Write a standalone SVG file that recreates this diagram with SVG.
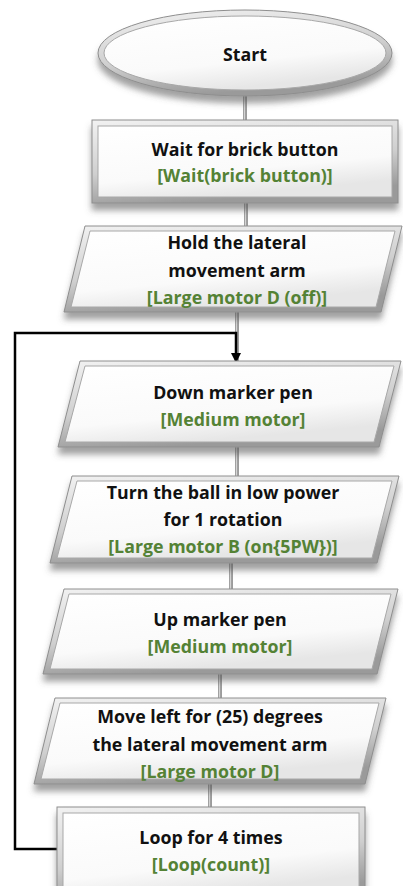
<svg xmlns="http://www.w3.org/2000/svg" width="403" height="886" viewBox="0 0 403 886">
  <defs>
    <style>
      .t { font-family: "Open Sans", "Liberation Sans", sans-serif; font-weight: 700; font-size: 17.8px; text-anchor: middle; fill: #111; }
      .g { fill: #548235; }
      .frame { fill: url(#frameGrad); stroke: #8e8e8e; stroke-width: 1; }
      .face { fill: url(#faceGrad); stroke: #a8a8a8; stroke-width: 1; }
      .link { stroke: #9c9c9c; stroke-width: 4; fill: none; }
      .linkHi { stroke: #d4d4d4; stroke-width: 1.2; fill: none; }
      .loop { stroke: #000; stroke-width: 2.5; fill: none; }
    </style>
    <linearGradient id="frameGrad" x1="0" y1="0" x2="0.3" y2="1">
      <stop offset="0" stop-color="#f2f2f2"/>
      <stop offset="0.6" stop-color="#cfcfcf"/>
      <stop offset="1" stop-color="#9a9a9a"/>
    </linearGradient>
    <linearGradient id="faceGrad" x1="0" y1="0" x2="0.4" y2="1">
      <stop offset="0" stop-color="#ffffff"/>
      <stop offset="0.7" stop-color="#fafafa"/>
      <stop offset="1" stop-color="#e6e6e6"/>
    </linearGradient>
    <filter id="shadow" x="-10%" y="-20%" width="120%" height="150%">
      <feGaussianBlur in="SourceAlpha" stdDeviation="3"/>
      <feOffset dx="0" dy="7" result="b"/>
      <feFlood flood-color="#555" flood-opacity="0.55"/>
      <feComposite in2="b" operator="in"/>
      <feMerge>
        <feMergeNode/>
        <feMergeNode in="SourceGraphic"/>
      </feMerge>
    </filter>
    <marker id="arrow" markerWidth="10" markerHeight="10" refX="9" refY="5" orient="auto" markerUnits="userSpaceOnUse">
      <path d="M0,0 L10,5 L0,10 Z" fill="#000"/>
    </marker>
  </defs>

  <!-- connectors -->
  <g id="connectors">
    <path class="link" d="M245,96 V120"/>
    <path class="linkHi" d="M244.5,96 V120"/>
    <path class="link" d="M246,203 V226"/>
    <path class="linkHi" d="M245.5,203 V226"/>
    <path class="link" d="M237,312 V361"/>
    <path class="linkHi" d="M236.5,312 V361"/>
    <path class="link" d="M237,447 V476"/>
    <path class="linkHi" d="M236.5,447 V476"/>
    <path class="link" d="M231,563 V589"/>
    <path class="linkHi" d="M230.5,563 V589"/>
    <path class="link" d="M220,674 V698"/>
    <path class="linkHi" d="M219.5,674 V698"/>
    <path class="link" d="M210,784 V807"/>
    <path class="linkHi" d="M209.5,784 V807"/>
    <!-- loop back -->
    <path class="loop" d="M57,849 H15 V333 H236 V362" marker-end="url(#arrow)"/>
  </g>

  <g id="start">
    <ellipse class="frame" cx="245" cy="53" rx="147" ry="43" filter="url(#shadow)"/>
    <ellipse class="face" cx="245" cy="53" rx="141" ry="37"/>
    <text class="t" x="245" y="61">Start</text>
  </g>

  <g id="wait">
    <rect class="frame" x="92" y="120" width="306" height="83" filter="url(#shadow)"/>
    <rect class="face" x="98" y="126" width="294" height="71"/>
    <text class="t" x="245" y="156">Wait for brick button</text>
    <text class="t g" x="245" y="182">[Wait(brick button)]</text>
  </g>

  <g id="hold">
    <polygon class="frame" points="85,226 402,226 381,312 64,312" filter="url(#shadow)"/>
    <polygon class="face" points="90,231 395,231 376,307 71,307"/>
    <text class="t" x="237" y="249">Hold the lateral</text>
    <text class="t" x="237" y="277">movement arm</text>
    <text class="t g" x="237" y="304">[Large motor D (off)]</text>
  </g>

  <g id="down">
    <polygon class="frame" points="80,361 401,361 379,447 58,447" filter="url(#shadow)"/>
    <polygon class="face" points="85,366 394,366 374,442 65,442"/>
    <text class="t" x="233" y="399">Down marker pen</text>
    <text class="t g" x="233" y="426">[Medium motor]</text>
  </g>

  <g id="turn">
    <polygon class="frame" points="72,476 399,476 377,563 50,563" filter="url(#shadow)"/>
    <polygon class="face" points="77,481 392,481 372,558 57,558"/>
    <text class="t" x="223" y="499">Turn the ball in low power</text>
    <text class="t" x="223" y="526">for 1 rotation</text>
    <text class="t g" x="223" y="553">[Large motor B (on{5PW})]</text>
  </g>

  <g id="up">
    <polygon class="frame" points="64,589 398,589 377,674 43,674" filter="url(#shadow)"/>
    <polygon class="face" points="69,594 391,594 372,669 50,669"/>
    <text class="t" x="220" y="626">Up marker pen</text>
    <text class="t g" x="220" y="653">[Medium motor]</text>
  </g>

  <g id="move">
    <polygon class="frame" points="55,698 386,698 365,784 34,784" filter="url(#shadow)"/>
    <polygon class="face" points="60,703 379,703 360,779 41,779"/>
    <text class="t" x="210" y="723">Move left for (25) degrees</text>
    <text class="t" x="210" y="751">the lateral movement arm</text>
    <text class="t g" x="210" y="778">[Large motor D]</text>
  </g>

  <g id="loop">
    <rect class="frame" x="57" y="807" width="308" height="95" filter="url(#shadow)"/>
    <rect class="face" x="63" y="813" width="296" height="83"/>
    <text class="t" x="211" y="844">Loop for 4 times</text>
    <text class="t g" x="211" y="871">[Loop(count)]</text>
  </g>
</svg>
